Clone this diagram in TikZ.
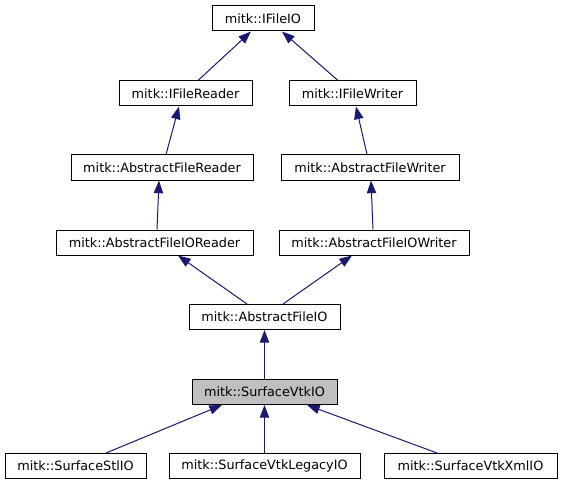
\documentclass[tikz,border=0pt]{standalone}
\usepackage{fontspec}
\setmainfont{DejaVu Sans}
\usetikzlibrary{arrows.meta}
\definecolor{edgeblue}{HTML}{191970}
\definecolor{hlgray}{HTML}{BFBFBF}
\begin{document}
\begin{tikzpicture}[x=0.75pt,y=-0.75pt,
  cls/.style={draw=black,line width=0.75pt,fill=white,minimum height=18.75pt,inner sep=0pt,
    font=\fontsize{9.6}{11}\selectfont},
  hl/.style={cls,fill=hlgray},
  inh/.style={draw=edgeblue,line width=0.75pt,-{Triangle[length=9.5pt,width=7pt]}}]
\useasboundingbox (0,0) rectangle (561,485);
\node[cls,minimum width=76.5pt]  (io)    at (263,18.5)  {mitk::IFileIO};
\node[cls,minimum width=99.75pt] (ifr)   at (185.5,93.5) {mitk::IFileReader};
\node[cls,minimum width=95.25pt] (ifw)   at (352.5,93.5) {mitk::IFileWriter};
\node[cls,minimum width=136.5pt] (afr)   at (162,167.5) {mitk::AbstractFileReader};
\node[cls,minimum width=133.5pt] (afw)   at (370,167.5) {mitk::AbstractFileWriter};
\node[cls,minimum width=147.75pt](afior) at (154.5,242.5) {mitk::AbstractFileIOReader};
\node[cls,minimum width=142.5pt] (afiow) at (374,242.5) {mitk::AbstractFileIOWriter};
\node[cls,minimum width=113.25pt](afio)  at (264.5,317) {mitk::AbstractFileIO};
\node[hl,minimum width=108.75pt] (svio)  at (264.5,392) {mitk::SurfaceVtkIO};
\node[cls,minimum width=105.75pt](stl)   at (75.5,466) {mitk::SurfaceStlIO};
\node[cls,minimum width=143.25pt](leg)   at (264.5,466) {mitk::SurfaceVtkLegacyIO};
\node[cls,minimum width=129.75pt](xml)   at (470.5,466) {mitk::SurfaceVtkXmlIO};

\draw[inh] ([xshift=12.5*0.75pt]ifr.north) -- ([xshift=-12*0.75pt]io.south);
\draw[inh] ([xshift=-14.5*0.75pt]ifw.north) -- ([xshift=19*0.75pt]io.south);
\draw[inh] ([xshift=4*0.75pt]afr.north) -- ([xshift=-6.5*0.75pt]ifr.south);
\draw[inh] ([xshift=-3*0.75pt]afw.north) -- ([xshift=3.5*0.75pt]ifw.south);
\draw[inh] ([xshift=2.5*0.75pt]afior.north) -- ([xshift=-3*0.75pt]afr.south);
\draw[inh] ([xshift=-1*0.75pt]afiow.north) -- ([xshift=1*0.75pt]afw.south);
\draw[inh] ([xshift=-17.5*0.75pt]afio.north) -- ([xshift=23.5*0.75pt]afior.south);
\draw[inh] ([xshift=18.5*0.75pt]afio.north) -- ([xshift=-22*0.75pt]afiow.south);
\draw[inh] (svio.north) -- (afio.south);
\draw[inh] ([xshift=30.5*0.75pt]stl.north) -- ([xshift=-42.5*0.75pt]svio.south);
\draw[inh] (leg.north) -- (svio.south);
\draw[inh] ([xshift=-33.5*0.75pt]xml.north) -- ([xshift=42.5*0.75pt]svio.south);
\end{tikzpicture}
\end{document}
